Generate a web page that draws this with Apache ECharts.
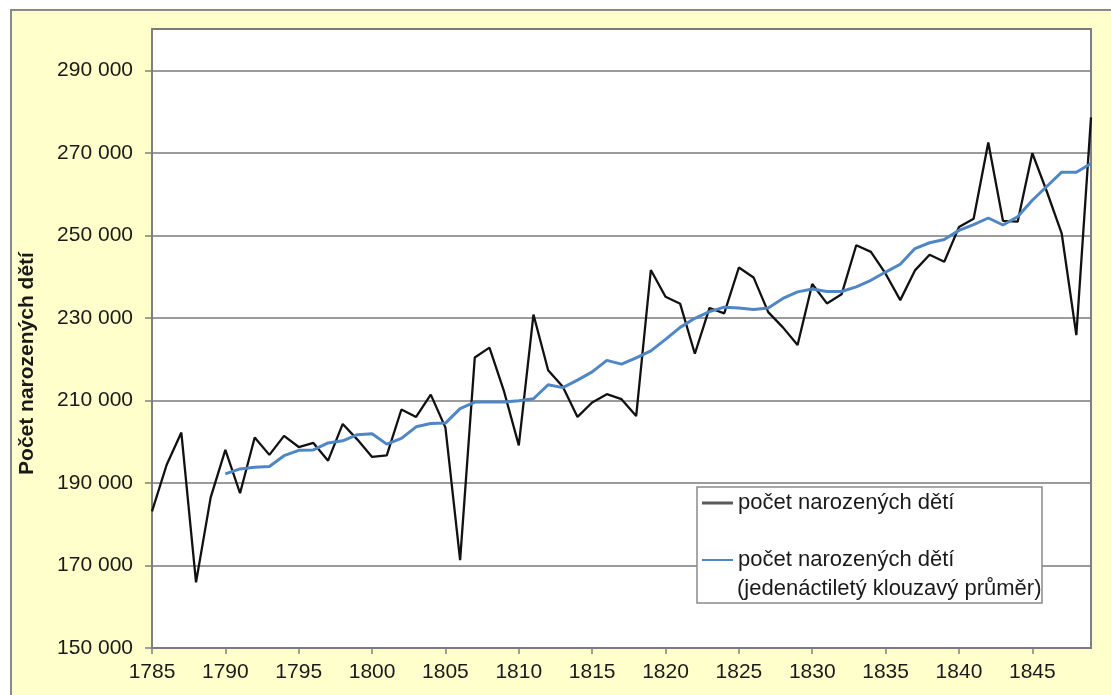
<!DOCTYPE html>
<html>
<head>
<meta charset="utf-8">
<script src="https://cdn.jsdelivr.net/npm/echarts@6/dist/echarts.min.js"></script>
<style>
  html, body { margin: 0; padding: 0; background: #fff; }
  #chart { width: 1111px; height: 695px; }
</style>
</head>
<body>
<div id="chart"></div>
<script>
// roky 1785-1849
var years = [
  1785, 1786, 1787, 1788, 1789, 1790, 1791, 1792, 1793, 1794,
  1795, 1796, 1797, 1798, 1799, 1800, 1801, 1802, 1803, 1804,
  1805, 1806, 1807, 1808, 1809, 1810, 1811, 1812, 1813, 1814,
  1815, 1816, 1817, 1818, 1819, 1820, 1821, 1822, 1823, 1824,
  1825, 1826, 1827, 1828, 1829, 1830, 1831, 1832, 1833, 1834,
  1835, 1836, 1837, 1838, 1839, 1840, 1841, 1842, 1843, 1844,
  1845, 1846, 1847, 1848, 1849
];

// počet narozených dětí (roční hodnoty)
var births = [
  183100, 194400, 202200, 165900, 186500, 198000, 187500, 201000, 196800, 201400,
  198700, 199700, 195400, 204300, 200500, 196300, 196700, 207800, 206000, 211400,
  203400, 171300, 220400, 222800, 212100, 199100, 230800, 217300, 213300, 206000,
  209500, 211500, 210300, 206200, 241600, 235100, 233400, 221300, 232400, 231100,
  242200, 239800, 231400, 227700, 223400, 238200, 233500, 235700, 247600, 246000,
  240700, 234300, 241500, 245300, 243600, 252000, 254000, 272500, 253500, 253300,
  269900, 260500, 250500, 225800, 278600
];

// klouzavý průměr, od roku 1790
var maStart = 1790;
var movingAvg = [
  192200, 193400, 193800, 194000, 196600, 197900, 198000, 199700, 200200, 201700,
  201900, 199400, 200800, 203600, 204400, 204500, 208000, 209600, 209600, 209600,
  209900, 210400, 213800, 213100, 214900, 216900, 219700, 218800, 220300, 222000,
  224800, 227700, 229900, 231500, 232600, 232400, 232000, 232400, 234700, 236300,
  237000, 236400, 236400, 237500, 239100, 241100, 243000, 246800, 248200, 249000,
  251200, 252600, 254200, 252500, 254500, 258500, 261900, 265300, 265300, 267400
];

var name1 = 'počet narozených dětí';
var name2 = 'počet narozených dětí (jedenáctiletý klouzavý průměr)';

var rawData = years.map(function (y, i) { return [y, births[i]]; });
var maYears = years.slice(years.indexOf(maStart));
var maData = maYears.map(function (y, i) { return [y, movingAvg[i]]; });

var FONT = '"Liberation Sans", Arial, sans-serif';

function fmtThousands(v) {
  return String(v).replace(/\B(?=(\d{3})+(?!\d))/g, ' ');
}

var myChart = echarts.init(document.getElementById('chart'));
var option = {
  animation: false,
  backgroundColor: '#ffffff',
  textStyle: { fontFamily: FONT },
  graphic: [
    {
      type: 'rect', z: -10,
      shape: { x: 11, y: 10, width: 1200, height: 800 },
      style: { fill: '#ffffcc', stroke: '#8a8a8a', lineWidth: 2 }
    },
    {
      type: 'rect', z: 30,
      shape: { x: 697, y: 487, width: 345, height: 116 },
      style: { fill: '#ffffff', stroke: '#8a8a8a', lineWidth: 1.5 }
    },
    {
      type: 'text', z: 40, left: 737, top: 578,
      style: { text: '(jedenáctiletý klouzavý průměr)', fill: '#1a1a1a', font: '22px ' + FONT }
    }
  ],
  grid: {
    left: 152, top: 29, right: 20, bottom: 47,
    show: true, backgroundColor: '#ffffff',
    borderColor: '#808080', borderWidth: 2
  },
  legend: [
    {
      z: 40, orient: 'vertical', left: 702, top: 492, padding: 0,
      data: [{ name: name1, icon: 'rect', itemStyle: { color: '#5a5a5a' } }],
      itemWidth: 31, itemHeight: 3, itemGap: 0,
      formatter: function () { return name1; },
      textStyle: { fontSize: 22, color: '#1a1a1a', fontFamily: FONT },
      selectedMode: false
    },
    {
      z: 40, orient: 'vertical', left: 702, top: 549, padding: 0,
      data: [{ name: name2, icon: 'rect', itemStyle: { color: '#4f86c6' } }],
      itemWidth: 31, itemHeight: 2, itemGap: 0,
      formatter: function () { return name1; },
      textStyle: { fontSize: 22, color: '#1a1a1a', fontFamily: FONT },
      selectedMode: false
    }
  ],
  xAxis: {
    type: 'value',
    min: 1785, max: 1849, interval: 5,
    axisLine: { show: false },
    axisTick: { show: true, inside: false, length: 6, lineStyle: { color: '#808080', width: 1.5 } },
    axisLabel: {
      margin: 14, fontSize: 21, color: '#1a1a1a', fontFamily: FONT,
      showMaxLabel: false,
      formatter: function (v) { return v === 1849 ? '' : String(v); }
    },
    splitLine: { show: false }
  },
  yAxis: {
    type: 'value',
    min: 150000, max: 300000, interval: 20000,
    name: 'Počet narozených dětí',
    nameLocation: 'middle',
    nameGap: 114,
    nameTextStyle: { fontSize: 21, fontWeight: 'bold', color: '#1a1a1a', fontFamily: FONT, padding: [0, 50, 0, 0] },
    axisLine: { show: false },
    axisTick: { show: true, inside: false, length: 7, lineStyle: { color: '#808080', width: 1.5 } },
    axisLabel: {
      margin: 19, fontSize: 21, color: '#1a1a1a', fontFamily: FONT,
      showMaxLabel: false,
      formatter: function (v) { return v === 300000 ? '' : fmtThousands(v); }
    },
    splitLine: { show: true, lineStyle: { color: '#7a7a7a', width: 1.5 } }
  },
  series: [
    {
      name: name1, type: 'line', data: rawData,
      showSymbol: false, symbol: 'none',
      lineStyle: { color: '#111111', width: 2.3 },
      itemStyle: { color: '#111111' },
      z: 3
    },
    {
      name: name2, type: 'line', data: maData,
      showSymbol: false, symbol: 'none',
      lineStyle: { color: '#4f86c6', width: 3 },
      itemStyle: { color: '#4f86c6' },
      z: 4
    }
  ]
};
myChart.setOption(option);
</script>
</body>
</html>
